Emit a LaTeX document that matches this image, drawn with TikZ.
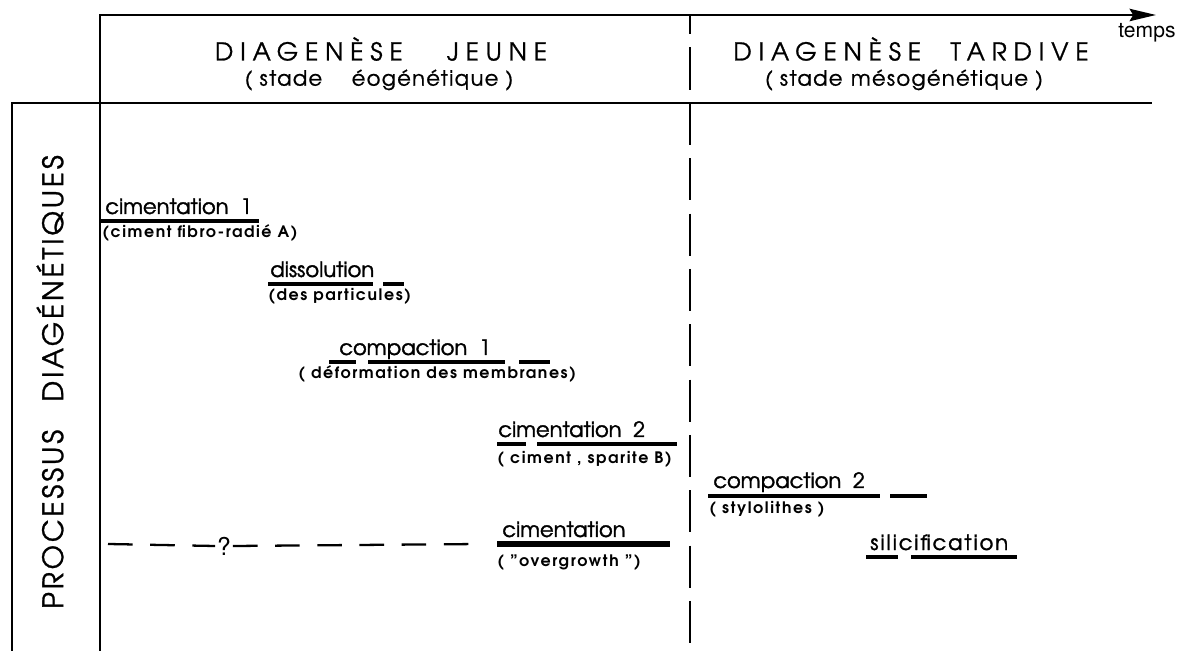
\documentclass[tikz,border=0pt]{standalone}
\usepackage{fontspec}
\setmainfont{TeX Gyre Adventor}
\newfontfamily\helv{TeX Gyre Heros}
\usetikzlibrary{positioning,arrows.meta}

\begin{document}
\begin{tikzpicture}[x=0.02cm,y=-0.02cm,>={Stealth[length=15pt,width=7pt,inset=2pt]},
    frame/.style={line width=1.4pt},
    cut/.style={line width=1.6pt,dash pattern=on 24pt off 7.5pt,dash phase=13pt},
    bar/.style={line width=2.6pt},
    guess/.style={line width=1.3pt,dash pattern=on 14pt off 10pt},
    title/.style={font=\fontsize{14}{16}\selectfont\addfontfeature{LetterSpace=28,FakeBold=1}},
    stage/.style={font=\fontsize{12}{14}\selectfont\addfontfeature{LetterSpace=6,FakeBold=0.8}},
    proc/.style={anchor=base west,inner sep=0pt,font=\fontsize{12}{14}\selectfont\addfontfeature{FakeBold=1.5}},
    note/.style={anchor=base west,inner sep=0pt,font=\bfseries\fontsize{9}{11}\selectfont\addfontfeature{LetterSpace=10}}]

\useasboundingbox (0,0) rectangle (1183,651);

% cadre
\draw[frame] (12,651) -- (12,103) -- (1152,103);
\draw[frame,->] (100,651) -- (100,15) -- (1156,15);
\draw[cut] (690,15) -- (690,651);

% en-tetes
\node[title] (jeune) at (381,49) {DIAGENÈSE\hspace{1.8em}JEUNE};
\node[stage] (eogen) at (379,80) {( stade\hspace{1.4em}éogénétique )};
\node[title] (tardive) at (911,49) {DIAGENÈSE\hspace{1.2em}TARDIVE};
\node[stage] (mesogen) at (904,80) {( stade\hspace{0.4em}mésogénétique )};
\node[font=\helv\fontsize{12}{14}\selectfont,anchor=north west,inner sep=0pt] (temps) at (1118,23) {temps};
\node[rotate=90,font=\fontsize{16}{18}\selectfont\addfontfeature{LetterSpace=10,FakeBold=1}] (processus) at (50,382) {PROCESSUS\hspace{1em}DIAGÉNÉTIQUES};

% diagenese jeune
\node[proc] (cim1) at (105,214) {cimentation\ \ 1};
\draw[bar] (100,221) -- (259,221);
\node[note] (cim1n) at (102,238) {(ciment fibro-radié A)};

\node[proc] (dissol) at (270,277) {dissolution};
\draw[bar] (268,284) -- (373,284) (383,284) -- (404,284);
\node[note] (dissoln) at (268,301) {(des particules)};

\node[proc] (comp1) at (339,355) {compaction\ \ 1};
\draw[bar] (329,362) -- (356,362) (368,362) -- (505,362) (519,362) -- (550,362);
\node[note] (comp1n) at (298,379) {( déformation des membranes)};

\node[proc] (cim2) at (498,437) {cimentation\ \ 2};
\draw[bar] (497,444) -- (526,444) (537,444) -- (677,444);
\node[note] (cim2n) at (497,464) {( ciment , sparite B)};

\node[proc] (over) at (502,537) {cimentation};
\draw[bar,line width=3pt] (497,544) -- (670,544);
\node[note] (overn) at (497,566) {( "overgrowth ")};

\coordinate (debut) at (108,544);
\coordinate (fin) at (480,544);
\node[font=\helv\fontsize{14}{16}\selectfont,inner sep=1pt] (doute) at (224,546) {?};
\draw[guess] (debut) -- (doute.west);
\draw[guess] (doute.east) -- (fin);

% diagenese tardive
\node[proc] (comp2) at (713,488) {compaction\ \ 2};
\draw[bar] (708,496) -- (880,496) (890,496) -- (927,496);
\node[note] (comp2n) at (709,514) {( stylolithes )};

\node[proc,font=\fontsize{12}{14}\selectfont\addfontfeature{FakeBold=1.5,LetterSpace=9}] (silic) at (870,550) {silicification};
\draw[bar] (866,557) -- (898,557) (911,557) -- (1017,557);
\end{tikzpicture}
\end{document}
